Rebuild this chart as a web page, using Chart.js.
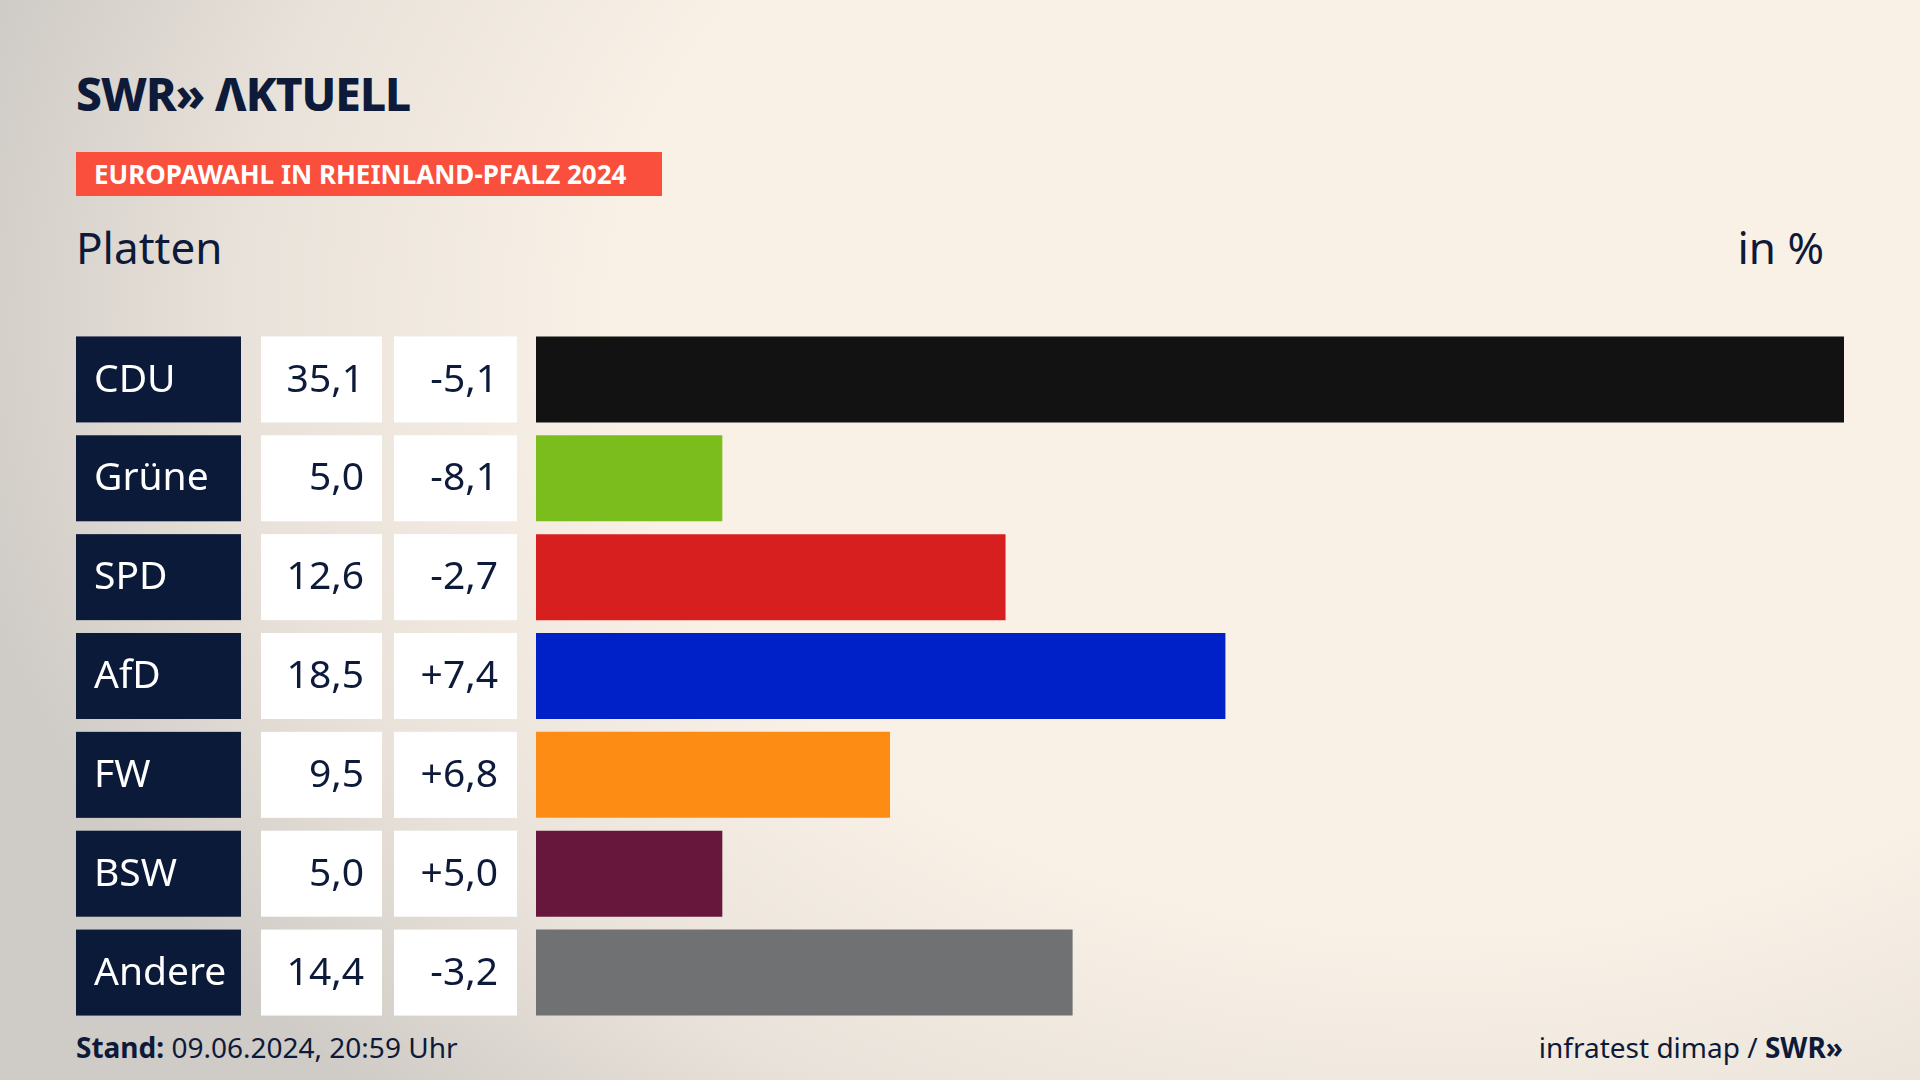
<!DOCTYPE html>
<html>
<head>
<meta charset="utf-8">
<script src="https://cdn.jsdelivr.net/npm/chart.js@4"></script>
<style>
  body { margin: 0; width: 1920px; height: 1080px; overflow: hidden; font-family: "Noto Sans", sans-serif;
    background: radial-gradient(ellipse 1500px 1100px at 75% 30%, #f9f1e6 55%, #e9e2da 80%, #cfcbc6 100%); }
  #wrap { position: absolute; left: 0; top: 0; width: 1920px; height: 1080px; }
  .logo { position: absolute; left: 76px; top: 62px; font-size: 46px; font-weight: 800; color: #0d1a3a; letter-spacing: -1px; }
  .tag { position: absolute; left: 76px; top: 152px; height: 44px; width: 586px; background: #fa4f3c; color: #fff;
    font-weight: 700; font-size: 26px; line-height: 44px; padding-left: 18px; box-sizing: border-box; }
  .sub { position: absolute; top: 217px; font-size: 44px; color: #0d1a3a; }
  .foot { position: absolute; top: 1028px; font-size: 28px; color: #0d1a3a; }
</style>
</head>
<body>
<div id="wrap">
  <div class="logo">SWR»&nbsp;ΛKTUELL</div>
  <div class="tag">EUROPAWAHL IN RHEINLAND-PFALZ 2024</div>
  <div class="sub" style="left:76px">Platten</div>
  <div class="sub" style="right:96px">in %</div>
  <div class="foot" style="left:76px"><b>Stand:</b> 09.06.2024, 20:59 Uhr</div>
  <div class="foot" style="right:77px">infratest dimap / <b>SWR»</b></div>
  <canvas id="myChart" width="1920" height="1080" style="position:absolute;left:0;top:0"></canvas>
</div>
<script>
const parties = ['CDU', 'Grüne', 'SPD', 'AfD', 'FW', 'BSW', 'Andere'];
const shares = [35.1, 5.0, 12.6, 18.5, 9.5, 5.0, 14.4];
const changes = ['-5,1', '-8,1', '-2,7', '+7,4', '+6,8', '+5,0', '-3,2'];
const colors = ['#121212', '#7abd1c', '#d71f1f', '#0021c8', '#fd8c14', '#67173c', '#707172'];

const boxes = {
    id: 'boxes',
    afterDatasetsDraw(chart) {
        const c = chart.ctx;
        const meta = chart.getDatasetMeta(0);
        c.save();
        c.font = '39px "Noto Sans"';
        c.textBaseline = 'middle';
        meta.data.forEach((bar, i) => {
            const h = bar.height, top = bar.y - h / 2;
            c.fillStyle = '#0c1a3a';
            c.fillRect(76, top, 165, h);
            c.fillStyle = '#ffffff';
            c.fillRect(261, top, 121, h);
            c.fillRect(394, top, 123, h);
            c.fillStyle = '#ffffff';
            c.textAlign = 'left';
            c.fillText(parties[i], 94, bar.y + 1);
            c.fillStyle = '#0d1a3a';
            c.textAlign = 'right';
            c.fillText(shares[i].toFixed(1).replace('.', ','), 364, bar.y + 1);
            c.fillText(changes[i], 498, bar.y + 1);
        });
        c.restore();
    }
};

new Chart(document.getElementById('myChart').getContext('2d'), {
    type: 'bar',
    data: {
        labels: parties,
        datasets: [{ data: shares, backgroundColor: colors, barPercentage: 1, categoryPercentage: 0.87 }]
    },
    options: {
        indexAxis: 'y',
        responsive: false,
        animation: false,
        layout: { padding: { left: 536, right: 76, top: 330, bottom: 58 } },
        plugins: { legend: { display: false }, tooltip: { enabled: false } },
        scales: {
            x: { display: false, min: 0, max: 35.1 },
            y: { display: false }
        }
    },
    plugins: [boxes]
});
</script>
</body>
</html>
